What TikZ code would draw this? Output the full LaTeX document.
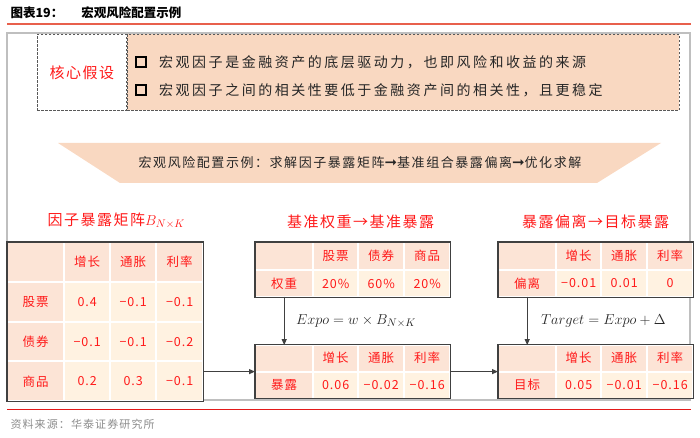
\documentclass[tikz,border=0pt]{standalone}
\usepackage{fontspec}
\usepackage{amsmath}
\setmainfont{Noto Sans CJK SC}
\newfontfamily\arrowfont{DejaVu Sans}
\usetikzlibrary{positioning,arrows.meta,calc,matrix}

\definecolor{topred}{HTML}{E8604C}
\definecolor{botred}{HTML}{E31A1A}
\definecolor{peach}{HTML}{F9D8C1}
\definecolor{hdbg}{HTML}{FCE4D6}
\definecolor{cellbg}{HTML}{FFF2E1}
\definecolor{frameg}{HTML}{BFBFBF}
\definecolor{tabline}{HTML}{404040}
\definecolor{redtxt}{HTML}{FF1A1A}
\definecolor{dashc}{HTML}{595959}

\begin{document}
\begin{tikzpicture}[
    x=1pt, y=-1pt,
    tbl/.style={matrix of nodes, nodes in empty cells, inner sep=0pt,
                column sep=0pt, row sep=0pt, anchor=north west,
                nodes={draw=white, line width=1pt, fill=cellbg, text=redtxt,
                       inner sep=0pt, outer sep=0pt, anchor=center,
                       font={\fontsize{12.5}{14}\selectfont\addfontfeature{LetterSpace=8}}},
                row 1/.style={nodes={fill=hdbg}}},
    colw/.style n args={4}{column 1/.style={nodes={fill=hdbg, minimum width=#1}},
                           column 2/.style={nodes={minimum width=#2}},
                           column 3/.style={nodes={minimum width=#3}},
                           column 4/.style={nodes={minimum width=#4}}},
    rowh/.style={nodes={minimum height=#1}},
    tblframe/.style={draw=tabline, line width=1.3pt},
    ttl/.style={text=redtxt, inner sep=0pt,
                font={\fontsize{15}{17}\selectfont\addfontfeature{LetterSpace=10}}},
    eqn/.style={text=black!85, font=\fontsize{15}{17}\selectfont},
    link/.style={-{Triangle[length=6pt, width=5pt]}, tabline, line width=1pt},
    bul/.style={draw=black, line width=2pt, minimum size=10pt, inner sep=0pt},
    item/.style={text=black!85, inner sep=0pt,
                 font={\fontsize{14}{16}\selectfont\addfontfeature{LetterSpace=18}}},
  ]
  \useasboundingbox (0,0) rectangle (700,438);

  % --- heading and rules ---
  \node[anchor=west, font={\fontsize{12.5}{14}\selectfont\bfseries}] (head) at (7,13)
    {图表19：\hspace{18pt}宏观风险配置示例};
  \draw[topred, line width=2pt] (7,24) -- (691,24);
  \draw[frameg, line width=1.2pt] (7,33) rectangle (690,400);
  \draw[botred, line width=0.8pt] (7,409) -- (691,409);
  \node[anchor=west, text=black!45,
        font={\fontsize{11}{13}\selectfont\addfontfeature{LetterSpace=10}}] (src) at (7,424)
    {资料来源：华泰证券研究所};

  % --- core assumptions (dashed box) ---
  \node[draw=dashc, dash pattern=on 2.5pt off 1.5pt, line width=0.9pt, fill=white,
        minimum width=89pt, minimum height=76pt, anchor=north west, text=redtxt,
        font={\fontsize{15}{17}\selectfont\addfontfeature{LetterSpace=10}}] (hyp) at (37,34)
    {核心假设};
  \node[draw=dashc, dash pattern=on 2.5pt off 1.5pt, line width=0.9pt, fill=peach,
        minimum width=552pt, minimum height=76pt, right=0pt of hyp] (hyptxt) {};
  \node[bul] (b1) at (141,62) {};
  \node[item, right=12pt of b1] (t1) {宏观因子是金融资产的底层驱动力，也即风险和收益的来源};
  \node[bul] (b2) at (141,90) {};
  \node[item, right=12pt of b2] (t2) {宏观因子之间的相关性要低于金融资产间的相关性，且更稳定};

  % --- banner ---
  \fill[peach] (58,143) -- (661,143) -- (597,183) -- (120,183) -- cycle;
  \node[text=black!85, font={\fontsize{13}{15}\selectfont\addfontfeature{LetterSpace=12}}]
    (plan) at (360,163)
    {宏观风险配置示例：求解因子暴露矩阵{\arrowfont\bfseries\fontsize{15}{15}\selectfont ➞}基准组合暴露偏离{\arrowfont\bfseries\fontsize{15}{15}\selectfont ➞}优化求解};

  % --- factor exposure matrix (left) ---
  \matrix[tbl, rowh=38.75pt, colw={56pt}{45pt}{45pt}{46pt}] (fmat) at (7,242) {
         & 增长 & 通胀 & 利率 \\
    股票 & 0.4  & −0.1 & −0.1 \\
    债券 & −0.1 & −0.1 & −0.2 \\
    商品 & 0.2  & 0.3  & −0.1 \\
  };
  \draw[tblframe] (fmat.north west) rectangle (fmat.south east);
  \node[ttl, above=13pt of fmat, xshift=11pt] (ftitle) {因子暴露矩阵$B_{N\times K}$};

  % --- benchmark weights -> exposure (middle) ---
  \matrix[tbl, rowh=26.5pt, colw={57pt}{44pt}{45pt}{45pt}] (wtab) at (255,242) {
         & 股票 & 债券 & 商品 \\
    权重 & 20\% & 60\% & 20\% \\
  };
  \draw[tblframe] (wtab.north west) rectangle (wtab.south east);
  \node[ttl, above=13pt of wtab, xshift=8pt] (wtitle) {基准权重→基准暴露};

  \matrix[tbl, rowh=26pt, colw={57pt}{44pt}{45pt}{45pt}, below=47pt of wtab] (etab) {
         & 增长 & 通胀 & 利率 \\
    暴露 & 0.06 & −0.02 & −0.16 \\
  };
  \draw[tblframe] (etab.north west) rectangle (etab.south east);

  % --- deviation -> target (right) ---
  \matrix[tbl, rowh=26.5pt, colw={57pt}{44pt}{45pt}{45pt}] (dtab) at (498,242) {
         & 增长 & 通胀 & 利率 \\
    偏离 & −0.01 & 0.01 & 0 \\
  };
  \draw[tblframe] (dtab.north west) rectangle (dtab.south east);
  \node[ttl, above=13pt of dtab] (dtitle) {暴露偏离→目标暴露};

  \matrix[tbl, rowh=26pt, colw={57pt}{44pt}{45pt}{45pt}, below=47pt of dtab] (ttab) {
         & 增长 & 通胀 & 利率 \\
    目标 & 0.05 & −0.01 & −0.16 \\
  };
  \draw[tblframe] (ttab.north west) rectangle (ttab.south east);

  % connectors
  \draw[link] (wtab-2-1.south) -- node[eqn, right=8pt] (eq1) {$Expo = w\times B_{N\times K}$}
    (etab-1-1.north);
  \draw[link] (dtab-2-1.south) -- node[eqn, right=10pt] (eq2) {$Target = Expo + \Delta$}
    (ttab-1-1.north);
  \draw[link] (fmat.east |- etab.west) -- (etab.west);
  \draw[link] (etab.east) -- (ttab.west);
\end{tikzpicture}
\end{document}
